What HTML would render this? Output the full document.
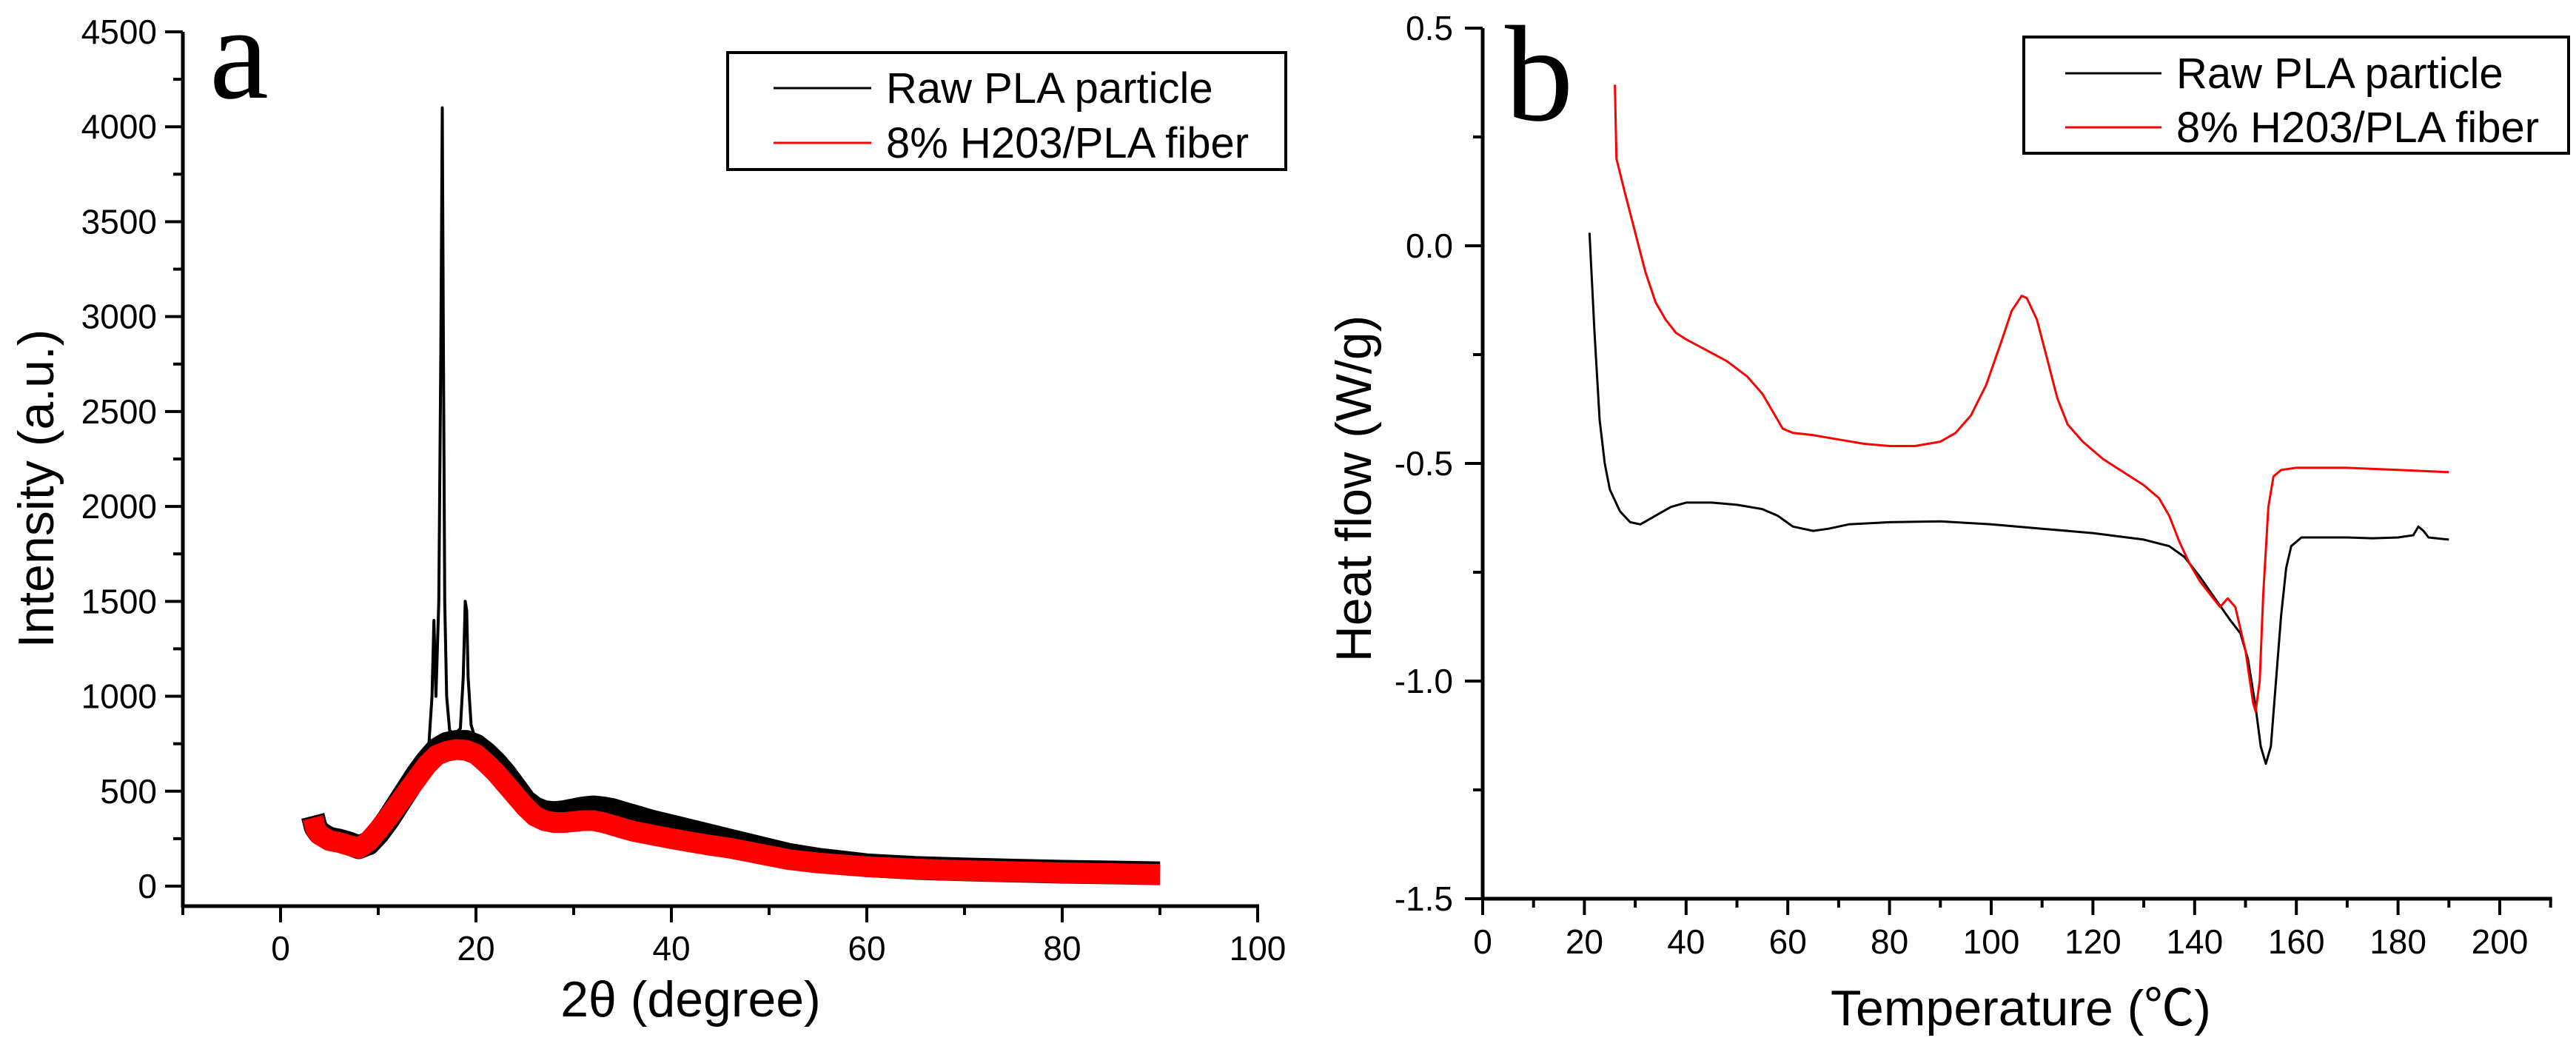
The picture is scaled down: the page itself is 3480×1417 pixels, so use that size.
<!DOCTYPE html>
<html><head><meta charset="utf-8"><style>
html,body{margin:0;padding:0;background:#fff;}
svg{display:block;font-family:"Liberation Sans",Arial,sans-serif;}
</style></head><body>
<svg id="fig" width="3480" height="1417" viewBox="0 0 3480 1417" xmlns="http://www.w3.org/2000/svg">
<rect width="3480" height="1417" fill="#fff"/>
<g id="pa"></g>
<g id="pb"></g>
</svg>
<script>
// ---------- Panel a data (XRD) ----------
const xrdRedX = [3.3,3.6,4,5,6,7,8,9,10,11,12,13,14,15,16,17,18,19,20,21,22,23,24,25,26,27,28,29,30,31,32,33,34,35,36,38,40,42,44,46,48,50,52,55,58,60,65,70,75,80,85,90];
const xrdRedY = [360,300,270,240,230,215,200,235,295,360,430,500,570,640,690,710,720,715,695,650,600,540,480,420,370,345,335,335,340,345,345,335,320,305,290,270,250,232,215,200,180,160,140,122,110,102,90,82,76,70,66,62];
const xrdBlackX = [3.3,3.6,4,5,6,7,8,9,10,11,12,13,14,15,16,17,18,19,20,21,22,23,24,25,26,27,28,29,30,31,32,33,34,35,36,38,40,42,44,46,48,50,52,55,58,60,65,70,75,80,85,90];
const xrdBlackY = [370,310,280,250,240,225,205,225,280,350,430,510,590,660,720,750,760,760,740,700,650,590,520,450,410,390,385,390,400,410,415,410,400,385,370,340,315,290,265,240,215,190,165,140,122,110,96,88,82,76,72,68];
const peakX = [15.2,15.5,15.7,15.9,16.2,16.4,16.55,16.65,16.8,17.0,17.3,17.8,18.4,18.7,18.9,19.05,19.2,19.5,19.9];
const peakY = [760,1000,1400,1000,1500,2800,4100,3000,1500,1000,820,800,830,1100,1500,1450,1100,850,780];
const aYTicks = [0,500,1000,1500,2000,2500,3000,3500,4000,4500];
const aXTicks = [0,20,40,60,80,100];

// ---------- Panel b data (DSC) ----------
const dscBlackX = [21,22,23,24,25,27,29,31,34,37,40,45,50,55,58,61,65,68,72,80,90,100,110,120,130,135,138,141,144,147,149,150.5,152,153,154,155,156,157,158,159,161,165,170,175,180,183,184,185,186,190];
const dscBlackY = [0.03,-0.2,-0.4,-0.5,-0.56,-0.61,-0.635,-0.64,-0.62,-0.6,-0.59,-0.59,-0.595,-0.605,-0.62,-0.645,-0.655,-0.65,-0.64,-0.635,-0.633,-0.64,-0.65,-0.66,-0.675,-0.69,-0.715,-0.76,-0.81,-0.86,-0.89,-0.95,-1.06,-1.15,-1.19,-1.15,-1.0,-0.85,-0.74,-0.69,-0.67,-0.67,-0.67,-0.672,-0.67,-0.665,-0.645,-0.655,-0.67,-0.675];
const dscRedX = [26,26.3,28,30,32,34,36,38,40,44,48,52,55,57,59,61,65,70,75,80,85,90,93,96,99,102,104,106,107,109,111,113,115,118,122,126,130,133,135,137,139,141,143,145,146.5,148,150,151.5,152,152.8,153.5,154.5,155.5,157,160,170,180,190];
const dscRedY = [0.37,0.2,0.12,0.03,-0.06,-0.13,-0.17,-0.2,-0.215,-0.24,-0.265,-0.3,-0.34,-0.38,-0.42,-0.43,-0.435,-0.445,-0.455,-0.46,-0.46,-0.45,-0.43,-0.39,-0.32,-0.22,-0.15,-0.115,-0.12,-0.17,-0.26,-0.35,-0.41,-0.45,-0.49,-0.52,-0.55,-0.58,-0.62,-0.68,-0.73,-0.77,-0.8,-0.83,-0.81,-0.83,-0.93,-1.05,-1.07,-1.0,-0.8,-0.6,-0.53,-0.515,-0.51,-0.51,-0.515,-0.52];
const bYTicks = [0.5,0.0,-0.5,-1.0,-1.5];
const bYLabels = ["0.5","0.0","-0.5","-1.0","-1.5"];
const bXTicks = [0,20,40,60,80,100,120,140,160,180,200];

const NS = "http://www.w3.org/2000/svg";
function mk(parent, tag, attrs, text){
  const e = document.createElementNS(NS, tag);
  for (const k in attrs) e.setAttribute(k, attrs[k]);
  if (text !== undefined) e.textContent = text;
  parent.appendChild(e);
  return e;
}
function pathD(xs, ys, sx, sy){
  return xs.map((x,i)=>(i?'L':'M')+sx(x).toFixed(1)+' '+sy(ys[i]).toFixed(1)).join(' ');
}

// ---------- Panel a ----------
(function(){
  const g = document.getElementById('pa');
  const sx = v => 379 + (v-0)*13.2;
  const sy = v => 1197 - v*(1154/4500);
  const x0 = sx(-10), x1 = sx(100), yb = 1224, yt = 43;
  let p;
  p = mk(g,'path',{d:pathD(xrdBlackX,xrdBlackY,sx,sy),fill:'none',stroke:'#000','stroke-width':32,'stroke-linejoin':'round','stroke-linecap':'butt'});
  
  
  p = mk(g,'path',{d:pathD(peakX,peakY,sx,sy),fill:'none',stroke:'#000','stroke-width':4,'stroke-linejoin':'round'});
  
  
  p = mk(g,'path',{d:pathD(xrdRedX,xrdRedY,sx,sy),fill:'none',stroke:'#f00','stroke-width':28,'stroke-linejoin':'round','stroke-linecap':'butt'});
  
  
  p = mk(g,'line',{x1:x0,y1:yb,x2:x1+2,y2:yb,stroke:'#000','stroke-width':5});
  
  
  p = mk(g,'line',{x1:x0,y1:yt,x2:x0,y2:yb+2,stroke:'#000','stroke-width':5});
  
  
  for (let v=0; v<=4500; v+=250){
    const major = v%500===0;
    mk(g,'line',{x1:x0-(major?24:13),y1:sy(v),x2:x0,y2:sy(v),stroke:'#000','stroke-width':4});
  }
  aYTicks.forEach(v=>{
    const t = mk(g,'text',{x:212,y:sy(v)+16,'font-size':46,'text-anchor':'end',fill:'#000'},String(v));
    
    
  });
  for (let v=-10; v<=100; v+=10){
    const major = v%20===0;
    mk(g,'line',{x1:sx(v),y1:yb,x2:sx(v),y2:yb+(major?22:12),stroke:'#000','stroke-width':4});
  }
  aXTicks.forEach(v=>{
    const t = mk(g,'text',{x:sx(v),y:1297,'font-size':46,'text-anchor':'middle',fill:'#000'},String(v));
    
    
  });
  let t = mk(g,'text',{x:933,y:1373,'font-size':68,'text-anchor':'middle',fill:'#000'},'2θ (degree)');
  
  
  t = mk(g,'text',{x:72,y:660,'font-size':68,'text-anchor':'middle',fill:'#000',transform:'rotate(-90 72 660)'},'Intensity (a.u.)');
  
  
  t = mk(g,'text',{x:283,y:132,'font-size':180,fill:'#000','font-family':'Liberation Serif, serif'},'a');
  
  
  const lg = mk(g,'g',{});
  
  
  mk(lg,'rect',{x:983,y:71,width:754,height:158,fill:'#fff',stroke:'#000','stroke-width':4});
  mk(lg,'line',{x1:1045,y1:119,x2:1177,y2:119,stroke:'#000','stroke-width':3});
  mk(lg,'line',{x1:1045,y1:193,x2:1177,y2:193,stroke:'#f00','stroke-width':3});
  t = mk(lg,'text',{x:1197,y:139,'font-size':58,fill:'#000'},'Raw PLA particle');
  
  
  t = mk(lg,'text',{x:1197,y:213,'font-size':58,fill:'#000'},'8% H203/PLA fiber');
  
  
})();

// ---------- Panel b ----------
(function(){
  const g = document.getElementById('pb');
  const sx = v => 2003 + v*6.87;
  const sy = v => 38 + (0.5-v)*588;
  const x0 = 2003, x1 = sx(210), yb = 1214, yt = 38;
  let p;
  p = mk(g,'path',{d:pathD(dscBlackX,dscBlackY,sx,sy),fill:'none',stroke:'#000','stroke-width':3,'stroke-linejoin':'round'});
  
  
  p = mk(g,'path',{d:pathD(dscRedX,dscRedY,sx,sy),fill:'none',stroke:'#f00','stroke-width':3,'stroke-linejoin':'round'});
  
  
  p = mk(g,'line',{x1:x0,y1:yb,x2:x1+2,y2:yb,stroke:'#000','stroke-width':5});
  
  
  p = mk(g,'line',{x1:x0,y1:yt,x2:x0,y2:yb+2,stroke:'#000','stroke-width':5});
  
  
  for (let i=0;i<=8;i++){
    const v = 0.5 - i*0.25;
    const major = i%2===0;
    mk(g,'line',{x1:x0-(major?24:13),y1:sy(v),x2:x0,y2:sy(v),stroke:'#000','stroke-width':4});
  }
  bYTicks.forEach((v,i)=>{
    const t = mk(g,'text',{x:1963,y:sy(v)+16,'font-size':46,'text-anchor':'end',fill:'#000'},bYLabels[i]);
    
    
  });
  for (let v=0; v<=210; v+=10){
    const major = v%20===0;
    mk(g,'line',{x1:sx(v),y1:yb,x2:sx(v),y2:yb+(major?22:12),stroke:'#000','stroke-width':4});
  }
  bXTicks.forEach(v=>{
    const t = mk(g,'text',{x:sx(v),y:1288,'font-size':46,'text-anchor':'middle',fill:'#000'},String(v));
    
    
  });
  let t = mk(g,'text',{x:2730,y:1385,'font-size':68,'text-anchor':'middle',fill:'#000','font-family':'Liberation Sans, Noto Sans CJK SC, sans-serif'},'Temperature (℃)');
  
  
  t = mk(g,'text',{x:1852,y:660,'font-size':68,'text-anchor':'middle',fill:'#000',transform:'rotate(-90 1852 660)'},'Heat flow (W/g)');
  
  
  t = mk(g,'text',{x:2033,y:162,'font-size':185,fill:'#000','font-family':'Liberation Serif, serif'},'b');
  
  
  const lg = mk(g,'g',{});
  
  
  mk(lg,'rect',{x:2734,y:50,width:736,height:157,fill:'#fff',stroke:'#000','stroke-width':4});
  mk(lg,'line',{x1:2790,y1:99,x2:2920,y2:99,stroke:'#000','stroke-width':3});
  mk(lg,'line',{x1:2790,y1:172,x2:2920,y2:172,stroke:'#f00','stroke-width':3});
  t = mk(lg,'text',{x:2940,y:119,'font-size':58,fill:'#000'},'Raw PLA particle');
  
  
  t = mk(lg,'text',{x:2940,y:192,'font-size':58,fill:'#000'},'8% H203/PLA fiber');
  
  
})();
</script>
</body></html>
